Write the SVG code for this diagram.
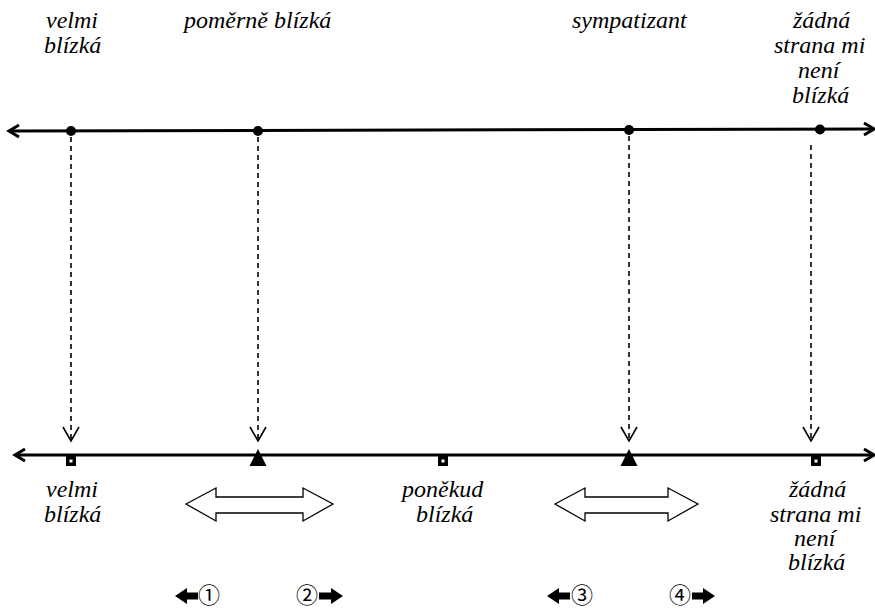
<svg xmlns="http://www.w3.org/2000/svg" width="875" height="608" viewBox="0 0 875 608">
<g id="connectors" stroke="#000" fill="none">
<line stroke-width="3" x1="9" y1="131" x2="874" y2="129"/>
<polyline stroke-width="3" points="19,125 9,131 19,137"/>
<polyline stroke-width="3" points="864,123 874,129 864,135"/>
<line stroke-width="3" x1="15" y1="455" x2="874" y2="455"/>
<polyline stroke-width="3" points="25,449 15,455 25,461"/>
<polyline stroke-width="3" points="864,449 874,455 864,461"/>
<g stroke-width="1.6">
<line stroke-dasharray="5 4" x1="71" y1="137" x2="71" y2="441"/>
<polyline points="63,427 71,441 79,427"/>
<line stroke-dasharray="5 4" x1="258" y1="137" x2="258" y2="441"/>
<polyline points="250,427 258,441 266,427"/>
<line stroke-dasharray="5 4" x1="629" y1="136" x2="629" y2="441"/>
<polyline points="621,427 629,441 637,427"/>
<line stroke-dasharray="5 4" x1="811" y1="145" x2="811" y2="441"/>
<polyline points="803,427 811,441 819,427"/>
</g>
</g>
<g id="top-points" fill="#000">
<circle cx="71" cy="131" r="5"/>
<circle cx="258" cy="131" r="5"/>
<circle cx="629" cy="130" r="5"/>
<circle cx="820" cy="129.5" r="5"/>
</g>
<g id="bottom-points">
<rect x="66" y="456" width="10" height="10" fill="#000"/><rect x="69.5" y="459.5" width="3" height="3" fill="#fff"/>
<rect x="438" y="456" width="10" height="10" fill="#000"/><rect x="441.5" y="459.5" width="3" height="3" fill="#fff"/>
<rect x="811" y="456" width="10" height="10" fill="#000"/><rect x="814.5" y="459.5" width="3" height="3" fill="#fff"/>
<polygon points="258,449 249.5,466 266.5,466" fill="#000"/>
<polygon points="629,449 620.5,466 637.5,466" fill="#000"/>
</g>
<g id="top-labels">
<text font-family="Liberation Serif" font-style="italic" font-size="24" x="46" y="28">velmi</text>
<text font-family="Liberation Serif" font-style="italic" font-size="24" x="44" y="53">blízká</text>
<text font-family="Liberation Serif" font-style="italic" font-size="24" x="184" y="28">poměrně blízká</text>
<text font-family="Liberation Serif" font-style="italic" font-size="24" x="572" y="28">sympatizant</text>
<text font-family="Liberation Serif" font-style="italic" font-size="24" x="793" y="28">žádná</text>
<text font-family="Liberation Serif" font-style="italic" font-size="24" x="774" y="53">strana mi</text>
<text font-family="Liberation Serif" font-style="italic" font-size="24" x="798" y="78">není</text>
<text font-family="Liberation Serif" font-style="italic" font-size="24" x="792" y="103">blízká</text>
</g>
<g id="bottom-labels">
<text font-family="Liberation Serif" font-style="italic" font-size="24" x="46" y="497">velmi</text>
<text font-family="Liberation Serif" font-style="italic" font-size="24" x="44" y="522">blízká</text>
<text font-family="Liberation Serif" font-style="italic" font-size="24" x="402" y="497">poněkud</text>
<text font-family="Liberation Serif" font-style="italic" font-size="24" x="416" y="522">blízká</text>
<text font-family="Liberation Serif" font-style="italic" font-size="24" x="789" y="497">žádná</text>
<text font-family="Liberation Serif" font-style="italic" font-size="24" x="770" y="522">strana mi</text>
<text font-family="Liberation Serif" font-style="italic" font-size="24" x="794" y="546">není</text>
<text font-family="Liberation Serif" font-style="italic" font-size="24" x="788" y="570">blízká</text>
</g>
<g id="double-arrow-1">
<polygon fill="#fff" stroke="#000" stroke-width="1.3" points="186,504 216,488 216,497 303,497 303,488 333,504 303,521 303,513 216,513 216,521"/>
</g>
<g id="double-arrow-2">
<polygon fill="#fff" stroke="#000" stroke-width="1.3" points="555,504 585,488 585,497 668,497 668,488 698,504 668,521 668,513 585,513 585,521"/>
</g>
<g id="legend">
<polygon points="175,596 187,588 187,592.5 198,592.5 198,599.5 187,599.5 187,604" fill="#000"/>
<text font-family="Noto Sans CJK SC" font-size="22" x="198" y="603">①</text>
<text font-family="Noto Sans CJK SC" font-size="22" x="296" y="603">②</text>
<polygon points="343,596 331,588 331,592.5 319,592.5 319,599.5 331,599.5 331,604" fill="#000"/>
<polygon points="547,596 559,588 559,592.5 570,592.5 570,599.5 559,599.5 559,604" fill="#000"/>
<text font-family="Noto Sans CJK SC" font-size="22" x="571" y="603">③</text>
<text font-family="Noto Sans CJK SC" font-size="22" x="669" y="603">④</text>
<polygon points="715,596 703,588 703,592.5 692,592.5 692,599.5 703,599.5 703,604" fill="#000"/>
</g>
</svg>
